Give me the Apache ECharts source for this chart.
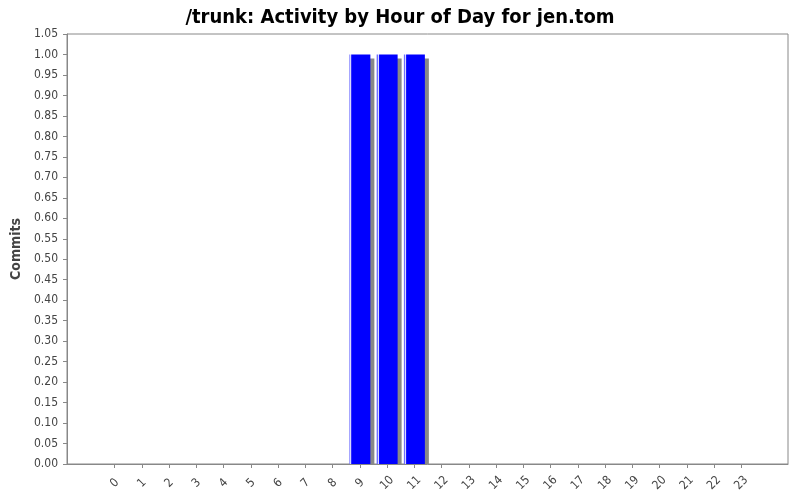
<!DOCTYPE html>
<html><head><meta charset="utf-8">
<script src="https://cdn.jsdelivr.net/npm/echarts@6/dist/echarts.min.js"></script>
<style>html,body{margin:0;padding:0;background:#fff}#c{width:800px;height:500px}</style>
</head><body><div id="c"></div>
<script>
const titleText = '/trunk: Activity by Hour of Day for jen.tom';
const hours = ['0','1','2','3','4','5','6','7','8','9','10','11','12','13','14','15','16','17','18','19','20','21','22','23'];
const commits = [0,0,0,0,0,0,0,0,0,1,1,1,0,0,0,0,0,0,0,0,0,0,0,0];
const yAxisName = 'Commits';

const chart = echarts.init(document.getElementById('c'));
const FONT = 'DejaVu Sans Condensed, DejaVu Sans';
const lblFont = {color:'#444', fontSize:12, fontFamily:FONT};
// shadow grid is shifted 4px right and 4px down (same pixel scale)
const shift = 4, plotH = 430, yMax = 1.05;
chart.setOption({
  animation:false,
  backgroundColor:'#fff',
  title:{text:titleText, left:'center', top:3,
    textStyle:{fontSize:20, fontWeight:'bold', color:'#000', fontFamily:FONT}},
  grid:[
    {left:67, right:12, top:34, bottom:36, show:true, borderColor:'#888', borderWidth:1, backgroundColor:'#fff'},
    {left:101, right:45, top:34, bottom:36},
    {left:101+shift, right:45-shift, top:34+shift, bottom:36}
  ],
  xAxis:[
    {gridIndex:0, type:'value', min:0, max:1, offset:3,
      axisLine:{show:true, lineStyle:{color:'#888'}}, axisTick:{show:false}, axisLabel:{show:false}, splitLine:{show:false}},
    {gridIndex:1, type:'category', data:hours, offset:3,
      axisLine:{show:false}, axisTick:{show:true, alignWithLabel:true, length:4, lineStyle:{color:'#888'}},
      axisLabel:Object.assign({rotate:45, margin:16, align:'center', verticalAlign:'middle'}, lblFont), splitLine:{show:false}},
    {gridIndex:2, type:'category', data:hours, show:false}
  ],
  yAxis:[
    {gridIndex:0, type:'value', min:0, max:yMax, interval:0.05, offset:5,
      name:yAxisName, nameLocation:'middle', nameGap:38,
      nameTextStyle:{fontSize:14, fontWeight:'bold', color:'#444', fontFamily:FONT},
      axisLine:{show:true, lineStyle:{color:'#888'}}, axisTick:{show:true, length:4, lineStyle:{color:'#888'}},
      axisLabel:Object.assign({formatter:v=>v.toFixed(2), margin:4}, lblFont), splitLine:{show:false}},
    {gridIndex:1, type:'value', min:0, max:yMax, show:false},
    {gridIndex:2, type:'value', min:shift*yMax/plotH, max:yMax, show:false}
  ],
  series:[
    {type:'bar', xAxisIndex:2, yAxisIndex:2, data:commits, barWidth:21, clip:true, silent:true,
      itemStyle:{color:'#888'}, z:1},
    {type:'bar', xAxisIndex:1, yAxisIndex:1, data:commits, barWidth:21, z:2,
      itemStyle:{
        color:{type:'linear', x:0, y:0, x2:1, y2:0, colorStops:[
          {offset:0, color:'#7070ff'},{offset:0.05, color:'#7070ff'},
          {offset:0.05, color:'#d8d8ff'},{offset:0.1, color:'#d8d8ff'},
          {offset:0.1, color:'#3030ff'},{offset:0.15, color:'#0000ff'},{offset:1, color:'#0000ff'}]}
      }}
  ]
});
</script></body></html>
